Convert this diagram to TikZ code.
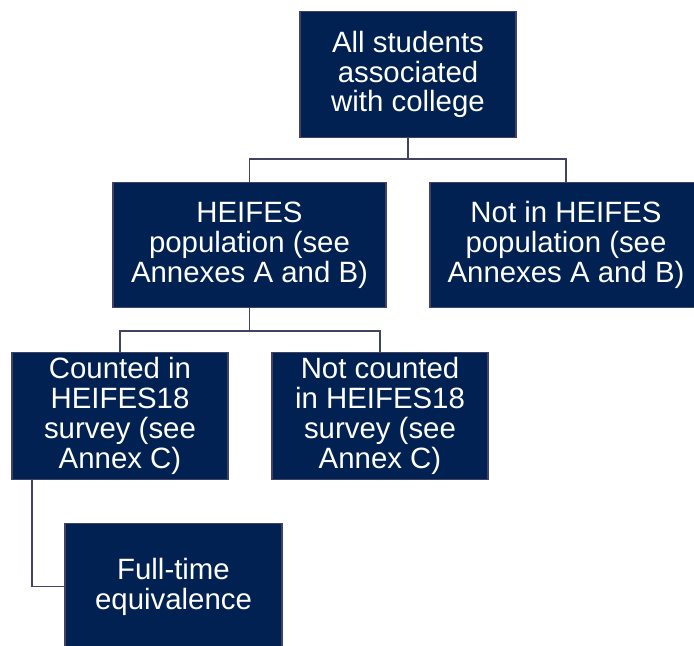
\documentclass[tikz,border=0pt]{standalone}
\usepackage{fontspec}
\setmainfont{Liberation Sans}
\definecolor{boxfill}{RGB}{0,33,81}
\definecolor{boxline}{RGB}{66,66,100}
\begin{document}
\begin{tikzpicture}[x=1bp,y=-1bp,
  orgbox/.style={draw=boxline, line width=1.5bp, fill=boxfill, text=white,
    inner sep=0pt, align=center, minimum width=216bp, minimum height=126bp,
    font=\fontsize{29.5}{30}\selectfont},
  link/.style={draw=boxline, line width=1.5bp}]
\clip (0,0) rectangle (694,646);
\node[orgbox] (top) at (408,74.5) {All students\\associated\\with college};
\node[orgbox, minimum width=273bp, minimum height=125bp] (heifes) at (249.5,245) {HEIFES\\population (see\\Annexes A and B)};
\node[orgbox, minimum width=272bp, minimum height=125bp] (notin) at (566,245) {Not in HEIFES\\population (see\\Annexes A and B)};
\node[orgbox, minimum height=127bp] (counted) at (120,416) {Counted in\\HEIFES18\\survey (see\\Annex C)};
\node[orgbox, minimum height=127bp] (notcounted) at (380,416) {Not counted\\in HEIFES18\\survey (see\\Annex C)};
\node[orgbox, minimum width=217bp] (full) at (173.5,586.5) {Full-time\\equivalence};
\draw[link] (top.south) -- (top.south |- 0,159) -| (heifes.north);
\draw[link] (top.south) -- (top.south |- 0,159) -| (notin.north);
\draw[link] (heifes.south) -- (heifes.south |- 0,331) -| (counted.north);
\draw[link] (heifes.south) -- (heifes.south |- 0,331) -| (notcounted.north);
\draw[link] ([xshift=21bp]counted.south west) |- (full.west);
\end{tikzpicture}
\end{document}
